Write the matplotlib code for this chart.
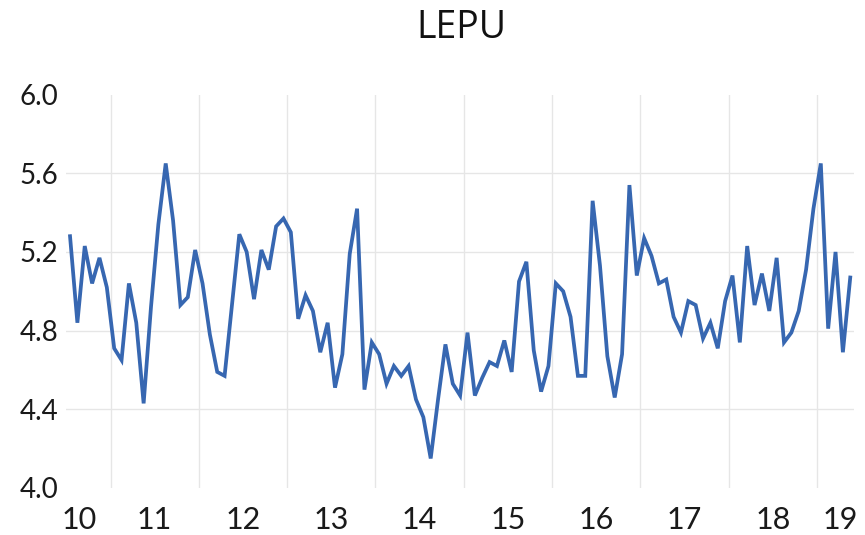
#!/usr/bin/env python3
"""LEPU 月度指数折线图 (2010-07 ~ 2019-05),Excel 风格。"""
import matplotlib

matplotlib.use("Agg")
import matplotlib.pyplot as plt
import numpy as np
import pandas as pd

OUT = "out.png"

START = "2010-07"
LEPU = [
    5.28, 4.84, 5.23, 5.04, 5.17, 5.02,                                 # 2010
    4.71, 4.65, 5.04, 4.84, 4.43, 4.92, 5.34, 5.65, 5.36, 4.93, 4.97, 5.21,  # 2011
    5.04, 4.78, 4.59, 4.57, 4.93, 5.29, 5.20, 4.96, 5.21, 5.11, 5.33, 5.37,  # 2012
    5.30, 4.86, 4.98, 4.90, 4.69, 4.84, 4.51, 4.68, 5.19, 5.42, 4.50, 4.74,  # 2013
    4.68, 4.53, 4.62, 4.57, 4.62, 4.45, 4.36, 4.15, 4.45, 4.73, 4.53, 4.47,  # 2014
    4.79, 4.47, 4.56, 4.64, 4.62, 4.75, 4.59, 5.05, 5.15, 4.70, 4.49, 4.62,  # 2015
    5.04, 5.00, 4.87, 4.57, 4.57, 5.46, 5.13, 4.67, 4.46, 4.68, 5.54, 5.08,  # 2016
    5.27, 5.18, 5.04, 5.06, 4.87, 4.79, 4.95, 4.93, 4.76, 4.84, 4.71, 4.95,  # 2017
    5.08, 4.74, 5.23, 4.93, 5.09, 4.90, 5.17, 4.74, 4.79, 4.90, 5.11, 5.42,  # 2018
    5.65, 4.81, 5.20, 4.69, 5.07,                                       # 2019
]
Y_TICKS = [4.0, 4.4, 4.8, 5.2, 5.6, 6.0]


def main():
    dates = pd.date_range(START, periods=len(LEPU), freq="MS")
    idx = np.arange(len(LEPU))
    years = dates.year.values

    fig = plt.figure(figsize=(8.65, 5.35), dpi=100)
    ax = fig.add_axes([0.0767, 0.0879, 0.9105, 0.7353])

    # 年份分隔竖线(像 Excel 的多级分类轴)
    bounds = idx[1:][years[1:] != years[:-1]] - 0.5
    for b in bounds:
        ax.axvline(b, color="#e6e6e6", lw=1.0, zorder=1)

    ax.plot(idx, LEPU, color="#3767b1", lw=2.7, zorder=3,
            solid_joinstyle="miter")

    ax.set_xlim(-0.5, len(LEPU) - 0.5)
    ax.set_ylim(Y_TICKS[0], Y_TICKS[-1])
    ax.set_yticks(Y_TICKS)
    ax.set_yticklabels([f"{v:.1f}" for v in Y_TICKS])
    ax.yaxis.grid(True, color="#e6e6e6", lw=1.0)
    gl = ax.get_ygridlines()
    gl[0].set_visible(False)
    gl[-1].set_visible(False)
    ax.set_axisbelow(True)

    # 年份标签放在每年的中间
    uniq = sorted(set(years))
    centers = [idx[years == y].mean() for y in uniq]
    centers[0] -= 1.2
    centers[-1] += 0.6
    ax.set_xticks(centers)
    ax.set_xticklabels([f"{y % 100:02d}" for y in uniq])

    for s in ax.spines.values():
        s.set_visible(False)
    ax.tick_params(axis="both", length=0)
    ax.tick_params(axis="y", labelsize=20, pad=6)
    ax.tick_params(axis="x", labelsize=22, pad=13)
    for t in ax.get_xticklabels() + ax.get_yticklabels():
        t.set_fontfamily("Lato")
        t.set_color("#1a1a1a")

    fig.text(0.533, 0.948, "LEPU", ha="center", va="center",
             fontsize=27, family="Open Sans", color="#111111")

    fig.savefig(OUT, dpi=100, facecolor="white")


if __name__ == "__main__":
    main()
